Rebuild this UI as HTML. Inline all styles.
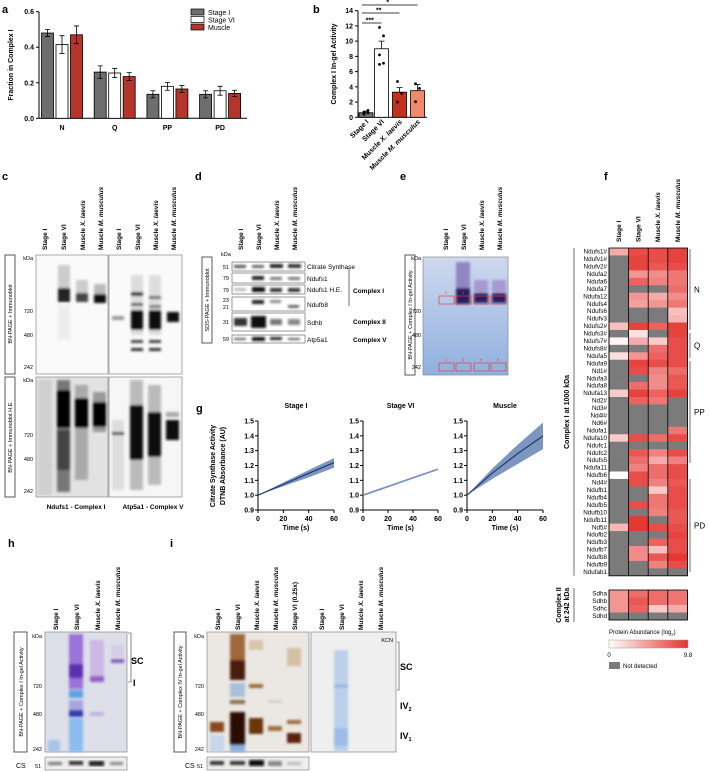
<!DOCTYPE html>
<html><head><meta charset="utf-8"><style>
html,body{margin:0;padding:0;background:#fff;}
svg{display:block;font-family:"Liberation Sans",Arial,sans-serif;}
.pl{font-size:11px;font-weight:bold;}
.tk{font-size:7px;font-weight:bold;}
.ln{font-size:6.5px;font-weight:bold;}
.sm{font-size:5.5px;}
</style></head><body>
<svg id="fig" width="709" height="772" viewBox="0 0 709 772">
<defs>
<filter id="bl" x="-20%" y="-20%" width="140%" height="140%"><feGaussianBlur stdDeviation="1.2"/></filter>
<filter id="bl2" x="-20%" y="-20%" width="140%" height="140%"><feGaussianBlur stdDeviation="2.5"/></filter>
<linearGradient id="egel" x1="0" y1="0" x2="0" y2="1"><stop offset="0" stop-color="#cfd9ee"/><stop offset="1" stop-color="#8fb0df"/></linearGradient>
</defs>

<!-- panel letters -->
<text class="pl" x="2" y="13">a</text>
<text class="pl" x="313" y="13">b</text>
<text class="pl" x="2" y="180">c</text>
<text class="pl" x="195" y="180">d</text>
<text class="pl" x="400" y="180">e</text>
<text class="pl" x="604" y="180">f</text>
<text class="pl" x="196" y="412">g</text>
<text class="pl" x="8" y="547">h</text>
<text class="pl" x="170" y="547">i</text>

<g id="pa"></g>
<g id="pb"></g>
<g id="pg"></g>
<g id="pf"></g>

<!-- PANEL C -->
<g>
 <g class="ln">
  <text transform="translate(47,250) rotate(-90)">Stage I</text>
  <text transform="translate(66,250) rotate(-90)">Stage VI</text>
  <text transform="translate(85,250) rotate(-90)">Muscle <tspan font-style="italic">X. laevis</tspan></text>
  <text transform="translate(103,250) rotate(-90)">Muscle <tspan font-style="italic">M. musculus</tspan></text>
  <text transform="translate(121,250) rotate(-90)">Stage I</text>
  <text transform="translate(140,250) rotate(-90)">Stage VI</text>
  <text transform="translate(158,250) rotate(-90)">Muscle <tspan font-style="italic">X. laevis</tspan></text>
  <text transform="translate(176,250) rotate(-90)">Muscle <tspan font-style="italic">M. musculus</tspan></text>
 </g>
 <rect x="5" y="255" width="10" height="119" fill="none" stroke="#333" stroke-width="0.8"/>
 <text class="sm" transform="translate(12,314) rotate(-90)" text-anchor="middle">BN-PAGE + Immunoblot</text>
 <rect x="5" y="377" width="10" height="120" fill="none" stroke="#333" stroke-width="0.8"/>
 <text class="sm" transform="translate(12,437) rotate(-90)" text-anchor="middle">BN-PAGE + Immunoblot H.E.</text>
 <g class="sm" text-anchor="end">
  <text x="33" y="260">kDa</text><text x="33" y="313">720</text><text x="33" y="337">480</text><text x="33" y="369">242</text>
  <text x="33" y="382">kDa</text><text x="33" y="437">720</text><text x="33" y="461">480</text><text x="33" y="493">242</text>
 </g>
 <rect x="36" y="255" width="72" height="119" fill="#fafafa" stroke="#888" stroke-width="0.7"/>
 <rect x="109" y="255" width="73" height="119" fill="#fafafa" stroke="#888" stroke-width="0.7"/>
 <rect x="36" y="377" width="72" height="120" fill="#e2e2e2" stroke="#888" stroke-width="0.7"/>
 <rect x="109" y="377" width="73" height="120" fill="#f6f6f6" stroke="#888" stroke-width="0.7"/>
 <g filter="url(#bl)">
  <rect x="58" y="265" width="12" height="28" fill="#ccc"/><rect x="58" y="288" width="12" height="14" fill="#222"/>
  <rect x="58" y="305" width="12" height="35" fill="#eee"/>
  <rect x="76" y="280" width="12" height="14" fill="#ccc"/><rect x="76" y="293" width="12" height="9" fill="#444"/>
  <rect x="94" y="284" width="12" height="10" fill="#bbb"/><rect x="94" y="294" width="12" height="9" fill="#111"/>
  <rect x="112" y="316" width="12" height="4" fill="#999"/>
  <rect x="131" y="275" width="12" height="60" fill="#ddd"/><rect x="131" y="292" width="12" height="4" fill="#333"/><rect x="131" y="303" width="12" height="3" fill="#555"/><rect x="131" y="310" width="12" height="20" fill="#111"/><rect x="131" y="340" width="12" height="3" fill="#444"/><rect x="131" y="348" width="12" height="3" fill="#333"/>
  <rect x="149" y="275" width="12" height="60" fill="#ddd"/><rect x="149" y="296" width="12" height="3" fill="#666"/><rect x="149" y="305" width="12" height="3" fill="#777"/><rect x="149" y="310" width="12" height="20" fill="#111"/><rect x="149" y="340" width="12" height="3" fill="#444"/><rect x="149" y="348" width="12" height="3" fill="#333"/>
  <rect x="167" y="312" width="12" height="10" fill="#111"/>
  <rect x="38" y="380" width="14" height="115" fill="#d0d0d0"/>
  <rect x="57" y="380" width="13" height="112" fill="#777"/><rect x="57" y="390" width="13" height="38" fill="#000"/><rect x="57" y="430" width="13" height="40" fill="#444"/>
  <rect x="75" y="385" width="13" height="95" fill="#aaa"/><rect x="75" y="398" width="13" height="30" fill="#000"/>
  <rect x="93" y="392" width="13" height="40" fill="#999"/><rect x="93" y="402" width="13" height="25" fill="#000"/>
  <rect x="112" y="420" width="12" height="70" fill="#ddd"/><rect x="112" y="432" width="12" height="3" fill="#444"/>
  <rect x="130" y="380" width="13" height="110" fill="#bbb"/><rect x="130" y="405" width="13" height="55" fill="#111"/>
  <rect x="148" y="385" width="13" height="100" fill="#bbb"/><rect x="148" y="412" width="13" height="45" fill="#111"/>
  <rect x="166" y="412" width="13" height="5" fill="#aaa"/><rect x="166" y="420" width="13" height="20" fill="#111"/>
 </g>
 <text x="76" y="509" text-anchor="middle" class="ln" font-size="7">Ndufs1 - Complex I</text>
 <text x="153" y="509" text-anchor="middle" class="ln" font-size="7">Atp5a1 - Complex V</text>
</g>

<!-- PANEL D -->
<g>
 <g class="ln">
  <text transform="translate(243,250) rotate(-90)">Stage I</text>
  <text transform="translate(261,250) rotate(-90)">Stage VI</text>
  <text transform="translate(279,250) rotate(-90)">Muscle <tspan font-style="italic">X. laevis</tspan></text>
  <text transform="translate(297,250) rotate(-90)">Muscle <tspan font-style="italic">M. musculus</tspan></text>
 </g>
 <rect x="202" y="257" width="10" height="86" fill="none" stroke="#333" stroke-width="0.8"/>
 <text class="sm" transform="translate(209,300) rotate(-90)" text-anchor="middle">SDS-PAGE + Immunoblot</text>
 <text class="sm" x="221" y="256">kDa</text>
 <g class="sm" text-anchor="end">
  <text x="229" y="269">51</text><text x="229" y="280">79</text><text x="229" y="292">79</text><text x="229" y="302">23</text><text x="229" y="309">21</text><text x="229" y="324">31</text><text x="229" y="341">59</text>
 </g>
 <g fill="#fff" stroke="#555" stroke-width="0.6">
  <rect x="232" y="262" width="73" height="9"/><rect x="232" y="273" width="73" height="10"/><rect x="232" y="285" width="73" height="9"/><rect x="232" y="297" width="73" height="14"/><rect x="232" y="313" width="73" height="18"/><rect x="232" y="335" width="73" height="8"/>
 </g>
 <g filter="url(#bl)">
  <rect x="234" y="265" width="12" height="3" fill="#555"/><rect x="252" y="265" width="12" height="3" fill="#666"/><rect x="270" y="264" width="13" height="4" fill="#222"/><rect x="288" y="264" width="13" height="4" fill="#333"/>
  <rect x="252" y="276" width="12" height="4" fill="#222"/><rect x="270" y="277" width="12" height="3" fill="#777"/><rect x="288" y="277" width="12" height="3" fill="#777"/>
  <rect x="234" y="288" width="12" height="3" fill="#bbb"/><rect x="252" y="287" width="13" height="5" fill="#111"/><rect x="270" y="288" width="12" height="4" fill="#333"/><rect x="288" y="288" width="12" height="4" fill="#333"/>
  <rect x="252" y="300" width="12" height="4" fill="#222"/><rect x="270" y="300" width="11" height="3" fill="#888"/><rect x="288" y="305" width="11" height="3" fill="#666"/>
  <rect x="234" y="318" width="13" height="8" fill="#333"/><rect x="251" y="316" width="15" height="12" fill="#111"/><rect x="270" y="319" width="12" height="6" fill="#777"/><rect x="288" y="319" width="12" height="6" fill="#888"/>
  <rect x="234" y="338" width="12" height="2" fill="#555"/><rect x="252" y="337" width="13" height="4" fill="#111"/><rect x="270" y="337" width="12" height="3" fill="#222"/><rect x="288" y="338" width="12" height="2" fill="#555"/>
 </g>
 <g font-size="6.5">
  <text x="307" y="269">Citrate Synthase</text><text x="307" y="281">Ndufs1</text><text x="307" y="292">Ndufs1 H.E.</text><text x="307" y="307">Ndufb8</text><text x="307" y="325">Sdhb</text><text x="307" y="342">Atp5a1</text>
 </g>
 <line x1="349" y1="268" x2="349" y2="306" stroke="#333" stroke-width="0.7"/>
 <g font-size="6.5" font-weight="bold">
  <text x="353" y="293">Complex I</text><text x="353" y="324">Complex II</text><text x="353" y="342">Complex V</text>
 </g>
</g>

<!-- PANEL E -->
<g>
 <g class="ln">
  <text transform="translate(448,250) rotate(-90)">Stage I</text>
  <text transform="translate(466,250) rotate(-90)">Stage VI</text>
  <text transform="translate(484,250) rotate(-90)">Muscle <tspan font-style="italic">X. laevis</tspan></text>
  <text transform="translate(502,250) rotate(-90)">Muscle <tspan font-style="italic">M. musculus</tspan></text>
 </g>
 <rect x="405" y="255" width="10" height="120" fill="none" stroke="#333" stroke-width="0.8"/>
 <text class="sm" transform="translate(412,315) rotate(-90)" text-anchor="middle">BN-PAGE + Complex I In-gel Activity</text>
 <g class="sm" text-anchor="end"><text x="421" y="260">kDa</text><text x="421" y="313">720</text><text x="421" y="337">480</text><text x="421" y="369">242</text></g>
 <rect x="423" y="257" width="85" height="118" fill="url(#egel)" stroke="#888" stroke-width="0.7"/>
 <g filter="url(#bl)">
  <rect x="456" y="262" width="14" height="30" fill="#8f86c2"/><rect x="456" y="288" width="14" height="16" fill="#2a1a5e"/>
  <rect x="474" y="280" width="14" height="12" fill="#a49ad0"/><rect x="474" y="293" width="14" height="10" fill="#2a1a5e"/>
  <rect x="492" y="280" width="14" height="12" fill="#a49ad0"/><rect x="492" y="293" width="14" height="10" fill="#2a1a5e"/>
 </g>
 <g fill="none" stroke="#e04040" stroke-width="0.7">
  <rect x="439" y="296" width="15" height="8"/><rect x="456" y="296" width="15" height="8"/><rect x="474" y="296" width="15" height="8"/><rect x="491" y="296" width="15" height="8"/>
  <rect x="439" y="363" width="15" height="8"/><rect x="456" y="363" width="15" height="8"/><rect x="474" y="363" width="15" height="8"/><rect x="491" y="363" width="15" height="8"/>
 </g>
 <g font-size="4" fill="#e04040" text-anchor="middle">
  <text x="446" y="294">1</text><text x="463" y="294">3</text><text x="481" y="294">5</text><text x="498" y="294">7</text>
  <text x="446" y="361">2</text><text x="463" y="361">4</text><text x="481" y="361">6</text><text x="498" y="361">8</text>
 </g>
</g>

<!-- PANEL H -->
<g>
 <g class="ln">
  <text transform="translate(58,630) rotate(-90)">Stage I</text>
  <text transform="translate(79,630) rotate(-90)">Stage VI</text>
  <text transform="translate(100,630) rotate(-90)">Muscle <tspan font-style="italic">X. laevis</tspan></text>
  <text transform="translate(120,630) rotate(-90)">Muscle <tspan font-style="italic">M. musculus</tspan></text>
 </g>
 <rect x="14" y="632" width="13" height="120" fill="none" stroke="#333" stroke-width="0.8"/>
 <text class="sm" transform="translate(23,692) rotate(-90)" text-anchor="middle">BN-PAGE + Complex I In-gel Activity</text>
 <g class="sm" text-anchor="end"><text x="42" y="638">kDa</text><text x="42" y="688">720</text><text x="42" y="716">480</text><text x="42" y="751">242</text></g>
 <rect x="45" y="632" width="82" height="120" fill="#dde0e8" stroke="#888" stroke-width="0.7"/>
 <g filter="url(#bl)">
  <rect x="48" y="740" width="12" height="12" fill="#a9c4ea"/>
  <rect x="69" y="634" width="14" height="55" fill="#9a72d8"/><rect x="69" y="664" width="14" height="14" fill="#5b2fb0"/><rect x="69" y="690" width="14" height="8" fill="#5fa0e6"/><rect x="69" y="700" width="14" height="10" fill="#a7a7e0"/><rect x="69" y="710" width="14" height="7" fill="#3b3bb0"/><rect x="69" y="718" width="14" height="34" fill="#8cbcef"/>
  <rect x="90" y="640" width="14" height="40" fill="#cbb8e6"/><rect x="90" y="676" width="14" height="6" fill="#9060c8"/><rect x="90" y="712" width="14" height="4" fill="#c4b0e0"/>
  <rect x="111" y="645" width="13" height="12" fill="#d6cce8"/><rect x="111" y="659" width="13" height="4" fill="#8a5ec0"/>
 </g>
 <path d="M128,633 H131 V682 H128" fill="none" stroke="#333" stroke-width="0.6"/>
 <text x="131" y="664" font-size="9" font-weight="bold">SC</text>
 <text x="133" y="686" font-size="9" font-weight="bold">I</text>
 <text x="16" y="768" font-size="7">CS</text>
 <text x="35" y="768" class="sm">51</text>
 <rect x="45" y="757" width="82" height="13" fill="#eee" stroke="#777" stroke-width="0.6"/>
 <g filter="url(#bl)"><rect x="48" y="762" width="14" height="3" fill="#777"/><rect x="69" y="761" width="14" height="4" fill="#333"/><rect x="89" y="761" width="15" height="5" fill="#222"/><rect x="110" y="762" width="13" height="3" fill="#888"/></g>
</g>

<!-- PANEL I -->
<g>
 <g class="ln">
  <text transform="translate(220,630) rotate(-90)">Stage I</text>
  <text transform="translate(240,630) rotate(-90)">Stage VI</text>
  <text transform="translate(259,630) rotate(-90)">Muscle <tspan font-style="italic">X. laevis</tspan></text>
  <text transform="translate(278,630) rotate(-90)">Muscle <tspan font-style="italic">M. musculus</tspan></text>
  <text transform="translate(297,630) rotate(-90)">Stage VI (0.25x)</text>
  <text transform="translate(324,630) rotate(-90)">Stage I</text>
  <text transform="translate(344,630) rotate(-90)">Stage VI</text>
  <text transform="translate(363,630) rotate(-90)">Muscle <tspan font-style="italic">X. laevis</tspan></text>
  <text transform="translate(383,630) rotate(-90)">Muscle <tspan font-style="italic">M. musculus</tspan></text>
 </g>
 <rect x="174" y="632" width="12" height="120" fill="none" stroke="#333" stroke-width="0.8"/>
 <text class="sm" transform="translate(182,692) rotate(-90)" text-anchor="middle">BN-PAGE + Complex IV In-gel Activity</text>
 <g class="sm" text-anchor="end"><text x="204" y="638">kDa</text><text x="204" y="688">720</text><text x="204" y="716">480</text><text x="204" y="751">242</text></g>
 <rect x="207" y="632" width="102" height="120" fill="#ebe8e3" stroke="#888" stroke-width="0.7"/>
 <rect x="311" y="632" width="85" height="120" fill="#efefef" stroke="#888" stroke-width="0.7"/>
 <g filter="url(#bl)">
  <rect x="210" y="722" width="14" height="10" fill="#8a4a1a"/><rect x="210" y="735" width="14" height="17" fill="#c8d6ea"/>
  <rect x="230" y="634" width="15" height="26" fill="#a0683a"/><rect x="230" y="660" width="15" height="20" fill="#4a1a08"/><rect x="230" y="683" width="15" height="14" fill="#a8c0da"/><rect x="230" y="700" width="15" height="4" fill="#8a6a50"/><rect x="230" y="712" width="15" height="33" fill="#2a0c04"/><rect x="230" y="745" width="15" height="7" fill="#8cb0e0"/>
  <rect x="249" y="640" width="14" height="10" fill="#d8c4a8"/><rect x="249" y="684" width="14" height="4" fill="#a06a30"/><rect x="249" y="718" width="14" height="16" fill="#6a3410"/>
  <rect x="268" y="700" width="14" height="3" fill="#d8cfc4"/><rect x="268" y="726" width="14" height="5" fill="#a07040"/>
  <rect x="287" y="648" width="14" height="18" fill="#d4c0a4"/><rect x="287" y="720" width="14" height="4" fill="#a06a3a"/><rect x="287" y="733" width="14" height="10" fill="#5a2008"/>
  <rect x="334" y="650" width="14" height="102" fill="#bcd0ec"/><rect x="334" y="684" width="14" height="4" fill="#9cb8e4"/><rect x="334" y="728" width="14" height="18" fill="#9cbce8"/>
 </g>
 <text x="393" y="642" class="sm" text-anchor="end">KCN</text>
 <path d="M397,642 H399 V690 H397" fill="none" stroke="#333" stroke-width="0.6"/>
 <text x="400" y="670" font-size="9" font-weight="bold">SC</text>
 <text x="400" y="709" font-size="9" font-weight="bold">IV<tspan font-size="5.5" dy="2">2</tspan></text>
 <text x="400" y="739" font-size="9" font-weight="bold">IV<tspan font-size="5.5" dy="2">1</tspan></text>
 <text x="185" y="768" font-size="7">CS</text>
 <text x="197" y="768" class="sm">51</text>
 <rect x="207" y="757" width="102" height="13" fill="#eee" stroke="#777" stroke-width="0.6"/>
 <g filter="url(#bl)"><rect x="210" y="761" width="14" height="4" fill="#333"/><rect x="230" y="761" width="15" height="4" fill="#333"/><rect x="249" y="760" width="15" height="6" fill="#111"/><rect x="268" y="761" width="14" height="5" fill="#888"/><rect x="287" y="762" width="14" height="3" fill="#bbb"/></g>
</g>

</svg>
<script>
// ---------- Panel a data ----------
const aCats = ['N','Q','PP','PD'];
const aStageI = [0.48,0.26,0.135,0.135];
const aStageVI = [0.415,0.255,0.18,0.155];
const aMuscle = [0.47,0.235,0.165,0.14];
const aErrI = [0.02,0.035,0.02,0.02];
const aErrVI = [0.05,0.025,0.022,0.025];
const aErrM = [0.05,0.022,0.02,0.018];
const aTicks = [0,0.2,0.4,0.6];
// ---------- Panel b data ----------
const bCats = ['Stage I','Stage VI','Muscle X. laevis','Muscle M. musculus'];
const bMeans = [0.6,9.0,3.3,3.5];
const bErr = [0.2,1.0,0.6,0.8];
const bPts = [[0.4,0.6,0.7,0.9,0.5],[11.8,10.7,8.2,7.1,6.95],[4.7,3.15,2.0],[4.4,3.8,2.05]];
const bTicks = [0,2,4,6,8,10,12,14];
// ---------- Panel g data ----------
const gTime = [0,20,40,60];
const gStageIMean = [1.0,1.073,1.147,1.22];
const gStageILo = [1.0,1.06,1.12,1.185];
const gStageIHi = [1.0,1.085,1.17,1.25];
const gStageVIMean = [1.0,1.058,1.117,1.175];
const gMuscleMean = [1.0,1.15,1.28,1.40];
const gMuscleLo = [1.0,1.11,1.21,1.31];
const gMuscleHi = [1.0,1.18,1.34,1.49];
const gYTicks = [0.9,1.0,1.1,1.2,1.3,1.4,1.5];
const gXTicks = [0,20,40,60];
// ---------- Panel f data (null = not detected) ----------
const fCols = ['Stage I','Stage VI','Muscle X. laevis','Muscle M. musculus'];
const fRows = ['Ndufs1#','Ndufv1#','Ndufv2#','Ndufa2','Ndufa6','Ndufa7','Ndufa12','Ndufs4','Ndufs6','Ndufv3','Ndufs2#','Ndufs3#','Ndufs7#','Ndufs8#','Ndufa5','Ndufa9','Nd1#','Ndufa3','Ndufa8','Ndufa13','Nd2#','Nd3#','Nd4l#','Nd6#','Ndufa1','Ndufa10','Ndufc1','Ndufc2','Ndufs5','Ndufa11','Ndufb6','Nd4#','Ndufb1','Ndufb4','Ndufb5','Ndufb10','Ndufb11','Nd5#','Ndufb2','Ndufb3','Ndufb7','Ndufb8','Ndufb9','Ndufab1'];
const fStageI = [4,null,null,null,null,null,null,null,null,null,3,null,0.5,null,1.5,null,null,null,null,2.5,null,null,null,null,null,2.5,null,null,null,null,0,null,null,null,null,null,null,3.5,null,null,null,null,null,null];
const fStageVI = [8.5,9,9,5,7.5,null,5,4.5,null,null,9,1.5,4,null,5,9,8.5,null,7,9,7.5,null,null,null,null,8.5,null,8,7,6,8.5,8.5,null,null,8.5,null,9.5,9.5,null,null,5.5,5.5,null,null];
const fXlaevis = [8.5,8.5,8,5.5,6,null,4,5,null,null,7.5,null,2.5,7,7.5,8.5,6,5.5,5.5,7.5,6.5,null,null,null,null,7,null,6,4,7,7,6,2.5,6.5,6.5,6,null,8.5,null,7.5,3,8,6,null];
const fMusculus = [9,9,8.5,6.5,6.5,7,5.5,6.5,3,3.5,9,9,8.5,8.5,8.5,8.5,7,8,8,9,null,null,null,null,6.5,8.5,null,8.5,6,8.5,8.5,8,8.5,8.5,8.5,8,8,8.5,9,8.5,8.5,9.5,8.5,null];
const f2Rows = ['Sdha','Sdhb','Sdhc','Sdhd'];
const f2StageI = [5,5,5,null];
const f2StageVI = [7,8,7.5,null];
const f2Xlaevis = [7,7,2.5,null];
const f2Musculus = [6.5,6.5,4,null];
const fScaleMax = 9.8;

const NS='http://www.w3.org/2000/svg';
function mk(tag, attrs, parent){const e=document.createElementNS(NS,tag);for(const k in attrs)e.setAttribute(k,attrs[k]);parent.appendChild(e);return e;}
function txt(s, attrs, parent){const e=mk('text',attrs,parent);e.textContent=s;return e;}

// ===== Panel a =====
(function(){
 const g=document.getElementById('pa');
 const ay=v=>118.3-v/0.6*106.6;
 const gx=i=>62+i*52.7;
 const ax=mk('line',{x1:39,y1:ay(0),x2:247,y2:ay(0),stroke:'#000','stroke-width':1},g);
 
 
 const yax=mk('line',{x1:39,y1:ay(0),x2:39,y2:ay(0.6),stroke:'#000','stroke-width':1},g);
 
 
 aTicks.forEach(t=>{
  const l=mk('line',{x1:36,y1:ay(t),x2:39,y2:ay(t),stroke:'#000'},g);
  
  
  const tt=txt(t.toFixed(1),{x:34,y:ay(t)+2.5,'text-anchor':'end',class:'tk'},g);
  
  
 });
 const yt=txt('Fraction in Complex I',{transform:'translate(13,65) rotate(-90)','text-anchor':'middle',class:'tk'},g);
 
 
 const series=[[aStageI,aErrI,'#6e6e6e',-14.5],[aStageVI,aErrVI,'#ffffff',0],[aMuscle,aErrM,'#b5352b',14.5]];
 aCats.forEach((c,i)=>{
  const cl=txt(c,{x:gx(i),y:130,'text-anchor':'middle',class:'tk','font-size':'8'},g);
  
  
  series.forEach(([vals,errs,col,off])=>{
   const cx=gx(i)+off;
   const r=mk('rect',{x:cx-6,y:ay(vals[i]),width:12,height:ay(0)-ay(vals[i]),fill:col,stroke:'#000','stroke-width':0.8},g);
   
   
   const e=mk('path',{d:`M${cx},${ay(vals[i]-errs[i])}V${ay(vals[i]+errs[i])}M${cx-2.5},${ay(vals[i]+errs[i])}H${cx+2.5}M${cx-2.5},${ay(vals[i]-errs[i])}H${cx+2.5}`,stroke:'#000','stroke-width':0.8,fill:'none'},g);
   
   
  });
 });
 const leg=[['Stage I','#6e6e6e'],['Stage VI','#ffffff'],['Muscle','#b5352b']];
 leg.forEach(([n,col],k)=>{
  const s=mk('rect',{x:191,y:9+k*7.5,width:13,height:6,fill:col,stroke:'#000','stroke-width':0.7},g);
  
  
  const t=txt(n,{x:208,y:15+k*7.5,'font-size':'7'},g);
  
  
 });
})();

// ===== Panel b =====
(function(){
 const g=document.getElementById('pb');
 const by=v=>117.3-v/14*106.6;
 const bx=i=>[366,381.5,399.5,417.5][i];
 const cols=['#6e6e6e','#ffffff','#c0321f','#f08a6c'];
 const yax=mk('line',{x1:358,y1:by(0),x2:358,y2:by(14),stroke:'#000'},g);
 
 
 const xax=mk('line',{x1:358,y1:by(0),x2:427,y2:by(0),stroke:'#000'},g);
 
 
 bTicks.forEach(t=>{
  const l=mk('line',{x1:355,y1:by(t),x2:358,y2:by(t),stroke:'#000'},g);
  
  
  const tt=txt(String(t),{x:353,y:by(t)+2.5,'text-anchor':'end',class:'tk'},g);
  
  
 });
 const yt=txt('Complex I In-gel Activity',{transform:'translate(336,64) rotate(-90)','text-anchor':'middle',class:'tk'},g);
 
 
 bMeans.forEach((m,i)=>{
  const cx=bx(i);
  const r=mk('rect',{x:cx-7,y:by(m),width:14,height:by(0)-by(m),fill:cols[i],stroke:'#000','stroke-width':0.8},g);
  
  
  const e=mk('path',{d:`M${cx},${by(m)}V${by(m+bErr[i])}M${cx-3},${by(m+bErr[i])}H${cx+3}`,stroke:'#000','stroke-width':0.8},g);
  
  
  bPts[i].forEach((p,k)=>{
   const c=mk('circle',{cx:cx+((k%2)?2:-2),cy:by(p),r:1.4,fill:'#000'},g);
   
   
  });
  const lab=bCats[i];
  const t=mk('text',{transform:`translate(${cx+3},${by(0)+5}) rotate(-45)`,'text-anchor':'end',class:'tk'},g);
  
  
  if(lab.indexOf('Muscle')===0){const sp=lab.split(' ');t.textContent='Muscle ';const ts=document.createElementNS(NS,'tspan');ts.setAttribute('font-style','italic');ts.textContent=sp.slice(1).join(' ');t.appendChild(ts);}else t.textContent=lab;
 });
 const sig=[['***',bx(0),bx(1),23],['**',bx(0),bx(2),13],['*',bx(0),bx(3),5]];
 sig.forEach(([s,x1,x2,y])=>{
  const l=mk('line',{x1:x1-4,y1:y,x2:x2,y2:y,stroke:'#000','stroke-width':0.8},g);
  
  
  const t=txt(s,{x:(x1+x2)/2-4,y:y-0.5,'text-anchor':'middle',class:'tk'},g);
  
  
 });
})();

// ===== Panel g =====
(function(){
 const g=document.getElementById('pg');
 const plots=[['Stage I',258,334,gStageIMean,gStageILo,gStageIHi,'#1f3a6e'],['Stage VI',363,438,gStageVIMean,null,null,'#7a94bd'],['Muscle',467,543,gMuscleMean,gMuscleLo,gMuscleHi,'#1f3a6e']];
 const gy=v=>510-(v-0.9)/0.6*89;
 plots.forEach(([title,x0,x1,mean,lo,hi,col])=>{
  const gx=t=>x0+t/60*(x1-x0);
  const tt=txt(title,{x:(x0+x1)/2,y:408,'text-anchor':'middle',class:'tk','font-size':'8'},g);
  
  
  const a1=mk('path',{d:`M${x0},${gy(1.5)}V${gy(0.9)}H${x1}`,stroke:'#000',fill:'none','stroke-width':1},g);
  
  
  gYTicks.forEach(t=>{
   const l=mk('line',{x1:x0-3,y1:gy(t),x2:x0,y2:gy(t),stroke:'#000'},g);
   
   
   const lt=txt(t.toFixed(1),{x:x0-4,y:gy(t)+2.5,'text-anchor':'end',class:'tk'},g);
   
   
  });
  gXTicks.forEach(t=>{
   const l=mk('line',{x1:gx(t),y1:gy(0.9),x2:gx(t),y2:gy(0.9)+3,stroke:'#000'},g);
   
   
   const lt=txt(String(t),{x:gx(t),y:gy(0.9)+11,'text-anchor':'middle',class:'tk'},g);
   
   
  });
  const xt=txt('Time (s)',{x:(x0+x1)/2,y:530,'text-anchor':'middle',class:'tk'},g);
  
  
  if(lo){
   let d='M'+gTime.map((t,k)=>gx(t)+','+gy(hi[k])).join('L')+'L'+gTime.slice().reverse().map((t,k)=>gx(t)+','+gy(lo[lo.length-1-k])).join('L')+'Z';
   const b=mk('path',{d:d,fill:'#5b7cb0','fill-opacity':0.8},g);
   
   
  }
  const ln=mk('polyline',{points:gTime.map((t,k)=>gx(t)+','+gy(mean[k])).join(' '),fill:'none',stroke:col,'stroke-width':lo?1.2:1.8},g);
  
  
 });
 const y1=txt('Citrate Synthase Activity',{transform:'translate(215,466) rotate(-90)','text-anchor':'middle',class:'tk'},g);
 
 
 const y2=txt('DTNB Absorbance (AU)',{transform:'translate(225,466) rotate(-90)','text-anchor':'middle',class:'tk'},g);
 
 
})();

// ===== Panel f =====
(function(){
 const g=document.getElementById('pf');
 const cw=19.6, x0=609, rh=7.45, y0=248;
 const colr=v=>{if(v===null)return '#7b7b7b';const t=Math.max(0,Math.min(1,v/fScaleMax));const r=Math.round(255+(229-255)*t),gg=Math.round(255+(50-255)*t),b=Math.round(255+(45-255)*t);return `rgb(${r},${gg},${b})`;};
 fCols.forEach((c,k)=>{
  const t=mk('text',{transform:`translate(${x0+k*cw+12},242) rotate(-90)`,class:'ln'},g);
  
  
  if(c.indexOf('Muscle')===0){t.textContent='Muscle ';const ts=document.createElementNS(NS,'tspan');ts.setAttribute('font-style','italic');ts.textContent=c.split(' ').slice(1).join(' ');t.appendChild(ts);}else t.textContent=c;
 });
 const cols=[fStageI,fStageVI,fXlaevis,fMusculus];
 fRows.forEach((rn,i)=>{
  const t=txt(rn,{x:607,y:y0+i*rh+5.6,'text-anchor':'end','font-size':'6.3'},g);
  
  
  cols.forEach((arr,k)=>{
   const r=mk('rect',{x:x0+k*cw,y:y0+i*rh,width:cw,height:rh+0.3,fill:colr(arr[i])},g);
   
   
  });
 });
 const y1=248+fRows.length*rh;
 for(let k=0;k<=4;k++){
  const l=mk('line',{x1:x0+k*cw,y1:y0,x2:x0+k*cw,y2:y1,stroke:'#000','stroke-width':0.8},g);
  
  
 }
 const fr=mk('rect',{x:x0,y:y0,width:4*cw,height:y1-y0,fill:'none',stroke:'#000','stroke-width':0.8},g);
 
 
 const cols2=[f2StageI,f2StageVI,f2Xlaevis,f2Musculus];
 const y20=590, rh2=7.5;
 f2Rows.forEach((rn,i)=>{
  const t=txt(rn,{x:607,y:y20+i*rh2+5.6,'text-anchor':'end','font-size':'6.3'},g);
  
  
  cols2.forEach((arr,k)=>{
   const r=mk('rect',{x:x0+k*cw,y:y20+i*rh2,width:cw,height:rh2+0.3,fill:colr(arr[i])},g);
   
   
  });
 });
 for(let k=0;k<=4;k++){
  const l=mk('line',{x1:x0+k*cw,y1:y20,x2:x0+k*cw,y2:y20+4*rh2,stroke:'#000','stroke-width':0.8},g);
  
  
 }
 const fr2=mk('rect',{x:x0,y:y20,width:4*cw,height:4*rh2,fill:'none',stroke:'#000','stroke-width':0.8},g);
 
 
 // left brackets and titles
 const lb=mk('line',{x1:574,y1:y0,x2:574,y2:y1,stroke:'#333','stroke-width':0.7},g);
 
 
 const ct=txt('Complex I at 1000 kDa',{transform:`translate(569,${(y0+y1)/2}) rotate(-90)`,'text-anchor':'middle',class:'tk','font-size':'8'},g);
 
 
 const lb2=mk('line',{x1:574,y1:588,x2:574,y2:622,stroke:'#333','stroke-width':0.7},g);
 
 
 const ct2=txt('Complex II',{transform:'translate(561,605) rotate(-90)','text-anchor':'middle',class:'tk','font-size':'8'},g);
 
 
 const ct3=txt('at 242 kDa',{transform:'translate(569,605) rotate(-90)','text-anchor':'middle',class:'tk','font-size':'8'},g);
 
 
 // module brackets
 const mods=[['N',249,330],['Q',333,358],['PP',361,463],['PD',479,572]];
 mods.forEach(([n,a,b])=>{
  const l=mk('line',{x1:690,y1:a,x2:690,y2:b,stroke:'#333','stroke-width':0.7},g);
  
  
  const t=txt(n,{x:694,y:(a+b)/2+3,'font-size':'8'},g);
  
  
 });
 // colorbar
 const lgT=txt('Protein Abundance (log',{x:609,y:634,'font-size':'6'},g);
 
 
 const sub=document.createElementNS(NS,'tspan');sub.setAttribute('font-size','4');sub.setAttribute('dy','1.5');sub.textContent='2';lgT.appendChild(sub);
 const sub2=document.createElementNS(NS,'tspan');sub2.setAttribute('dy','-1.5');sub2.textContent=')';lgT.appendChild(sub2);
 const defs=document.querySelector('defs');
 const lg=mk('linearGradient',{id:'cbar',x1:0,y1:0,x2:1,y2:0},defs);
 mk('stop',{offset:0,'stop-color':colr(0)},lg);
 mk('stop',{offset:1,'stop-color':colr(fScaleMax)},lg);
 const cb=mk('rect',{x:609,y:640,width:79,height:8,fill:'url(#cbar)',stroke:'#999','stroke-width':0.5},g);
 
 
 const c0=txt('0',{x:609,y:657,'font-size':'6','text-anchor':'middle'},g);
 
 
 const c1=txt(String(fScaleMax),{x:688,y:657,'font-size':'6','text-anchor':'middle'},g);
 
 
 const nd=mk('rect',{x:609,y:662,width:11,height:7,fill:'#7b7b7b'},g);
 
 
 const ndt=txt('Not detected',{x:623,y:668,'font-size':'6'},g);
 
 
})();
</script>
</body></html>
